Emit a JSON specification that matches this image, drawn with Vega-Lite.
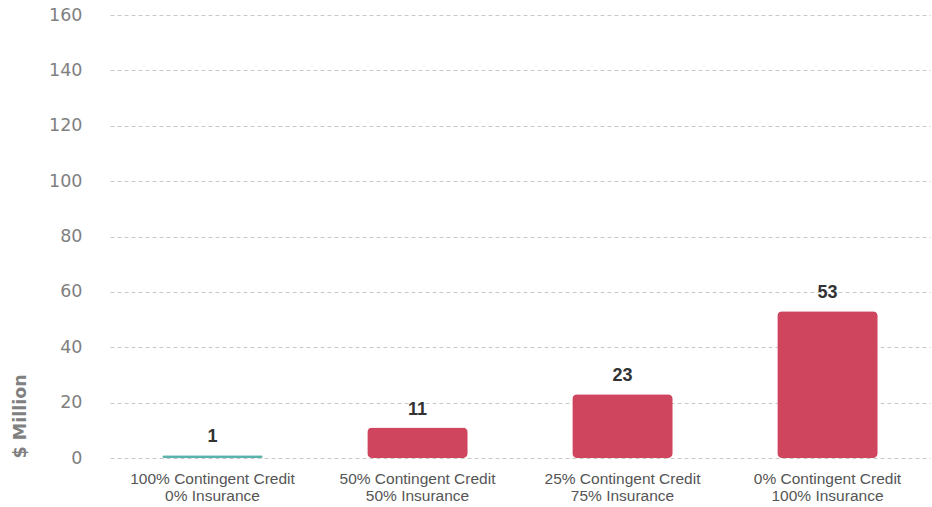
{
  "$schema": "https://vega.github.io/schema/vega-lite/v6.json",
  "width": 820,
  "height": 443,
  "autosize": {"type": "none"},
  "padding": {"left": 110, "top": 15, "right": 2, "bottom": 49},
  "background": "white",
  "config": {"view": {"stroke": null}, "font": "Liberation Sans"},
  "data": {
    "values": [
      {"scenario": "100% Contingent Credit|0% Insurance", "value": 1, "label": "1", "kind": "a"},
      {"scenario": "50% Contingent Credit|50% Insurance", "value": 11, "label": "11", "kind": "b"},
      {"scenario": "25% Contingent Credit|75% Insurance", "value": 23, "label": "23", "kind": "b"},
      {"scenario": "0% Contingent Credit|100% Insurance", "value": 53, "label": "53", "kind": "b"}
    ]
  },
  "encoding": {
    "x": {
      "field": "scenario",
      "type": "nominal",
      "sort": null,
      "scale": {"paddingInner": 0.51, "paddingOuter": 0.255},
      "axis": {
        "title": null,
        "labelAngle": 0,
        "domain": false,
        "ticks": false,
        "labelExpr": "split(datum.label, '|')",
        "labelFont": "Liberation Sans",
        "labelFontSize": 15.5,
        "labelColor": "#555555",
        "labelLineHeight": 17,
        "labelPadding": 13
      }
    },
    "y": {
      "field": "value",
      "type": "quantitative",
      "scale": {"domain": [0, 160]},
      "axis": {
        "title": "$ Million",
        "values": [0, 20, 40, 60, 80, 100, 120, 140, 160],
        "domain": false,
        "ticks": false,
        "grid": true,
        "gridColor": "#c8c8c8",
        "gridDash": [4, 3],
        "gridWidth": 1,
        "labelFont": "DejaVu Sans",
        "labelFontSize": 17.5,
        "labelColor": "#808080",
        "labelPadding": 28,
        "titleFont": "DejaVu Sans",
        "titleFontSize": 17.5,
        "titleFontWeight": "bold",
        "titleColor": "#808080",
        "titleAngle": 270,
        "titleAlign": "left",
        "titleBaseline": "middle",
        "titleX": -90,
        "titleY": 443
      }
    }
  },
  "layer": [
    {
      "mark": {"type": "bar", "cornerRadius": 5},
      "encoding": {
        "color": {
          "field": "kind",
          "type": "nominal",
          "scale": {"domain": ["a", "b"], "range": ["#5ab4ac", "#d0455e"]},
          "legend": null
        }
      }
    },
    {
      "mark": {"type": "text", "baseline": "bottom", "dy": -9, "fontSize": 18, "fontWeight": "bold", "color": "#333333", "font": "Liberation Sans"},
      "encoding": {"text": {"field": "label"}}
    }
  ]
}
